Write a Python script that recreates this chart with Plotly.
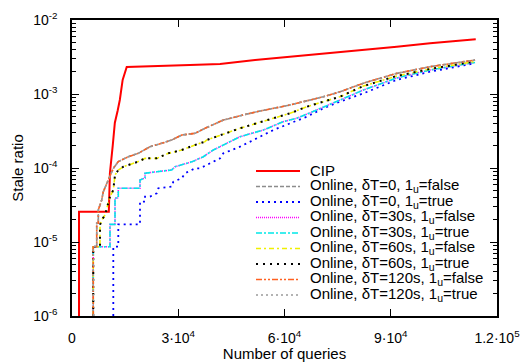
import plotly.graph_objects as go

# ---- data ----
cip_x = [1980, 1980, 10400, 10700, 11500, 12100, 12900, 13500, 14300, 15450, 33300, 41800, 51700, 72900, 82300, 91700, 101100, 114000]
cip_y = [1e-6, 2.57e-5, 2.57e-5, 8.5e-5, 2.0e-4, 4.1e-4, 6.0e-4, 8.3e-4, 1.55e-3, 2.32e-3, 2.47e-3, 2.54e-3, 2.88e-3, 3.55e-3, 3.93e-3, 4.36e-3, 4.84e-3, 5.48e-3]

# upper group (δT=0 false, δT=120s false/true)
a_x = [6000, 6000, 6980, 6980, 7430, 7430, 8390, 8840, 10250, 11660, 13070, 15900, 18720, 22030, 25330, 28150, 30980, 34740, 37560, 42730, 52160, 61560, 70970, 75680, 82260, 91690, 101100, 113800]
a_y = [1e-6, 8.64e-6, 8.64e-6, 1.79e-5, 1.79e-5, 2.71e-5, 3.70e-5, 4.78e-5, 6.89e-5, 9.91e-5, 1.22e-4, 1.42e-4, 1.58e-4, 1.94e-4, 2.16e-4, 2.39e-4, 2.79e-4, 2.94e-4, 3.44e-4, 4.45e-4, 5.77e-4, 7.10e-4, 9.20e-4, 1.07e-3, 1.40e-3, 1.90e-3, 2.34e-3, 2.88e-3]

# δT=60s group
b_x = [6000, 6000, 7900, 7900, 8390, 9320, 10730, 11660, 12140, 13070, 14490, 18720, 20620, 23920, 27200, 30980, 34740, 37560, 38040, 47440, 56850, 61560, 66280, 75680, 82260, 91690, 101100, 113800]
b_y = [1e-6, 8.64e-6, 8.64e-6, 1.70e-5, 1.98e-5, 2.32e-5, 4.10e-5, 5.04e-5, 8.04e-5, 9.40e-5, 1.04e-4, 1.22e-4, 1.35e-4, 1.35e-4, 1.58e-4, 1.75e-4, 2.05e-4, 2.27e-4, 2.39e-4, 3.44e-4, 4.70e-4, 5.48e-4, 6.73e-4, 9.20e-4, 1.28e-3, 1.75e-3, 2.18e-3, 2.75e-3]

# δT=30s group
c_x = [6000, 6000, 10730, 10730, 12140, 12140, 13070, 13070, 19200, 19200, 20620, 20620, 23920, 28150, 29090, 33800, 37080, 39900, 47440, 54020, 59670, 63460, 69100, 75680, 82260, 91690, 101100, 113800]
c_y = [1e-6, 8.64e-6, 8.64e-6, 1.73e-5, 1.73e-5, 3.93e-5, 3.93e-5, 5.32e-5, 5.32e-5, 6.89e-5, 7.33e-5, 8.48e-5, 8.91e-5, 9.40e-5, 1.04e-4, 1.21e-4, 1.42e-4, 1.75e-4, 2.65e-4, 3.26e-4, 4.23e-4, 4.70e-4, 6.08e-4, 8.30e-4, 1.13e-3, 1.65e-3, 2.11e-3, 2.67e-3]

# δT=0 true
d_x = [11660, 11660, 13070, 13070, 19200, 19200, 20620, 20620, 22030, 23920, 24370, 28150, 28610, 30980, 31910, 33800, 34740, 36150, 38970, 41800, 42730, 47440, 56850, 61560, 66280, 70970, 75680, 82260, 91690, 101100, 113800]
d_y = [1e-6, 8.64e-6, 8.64e-6, 1.73e-5, 1.73e-5, 3.51e-5, 3.51e-5, 4.10e-5, 4.10e-5, 4.55e-5, 5.32e-5, 5.59e-5, 6.53e-5, 7.26e-5, 8.48e-5, 9.40e-5, 9.91e-5, 9.91e-5, 1.16e-4, 1.35e-4, 1.58e-4, 1.94e-4, 3.26e-4, 4.02e-4, 4.93e-4, 6.41e-4, 7.87e-4, 1.02e-3, 1.55e-3, 2.00e-3, 2.60e-3]

series_names = [
    "CIP",
    "Online, δT=0, 1<sub>u</sub>=false",
    "Online, δT=0, 1<sub>u</sub>=true",
    "Online, δT=30s, 1<sub>u</sub>=false",
    "Online, δT=30s, 1<sub>u</sub>=true",
    "Online, δT=60s, 1<sub>u</sub>=false",
    "Online, δT=60s, 1<sub>u</sub>=true",
    "Online, δT=120s, 1<sub>u</sub>=false",
    "Online, δT=120s, 1<sub>u</sub>=true",
]
series_data = [(cip_x, cip_y), (a_x, a_y), (d_x, d_y), (c_x, c_y), (c_x, c_y),
               (b_x, b_y), (b_x, b_y), (a_x, a_y), (a_x, a_y)]
series_colors = ["#ff0000", "#8c8c8c", "#0000ff", "#ff00ff", "#00e8e8",
                 "#f0f000", "#000000", "#ff6020", "#9a9a9a"]
series_dash = ["solid", "4px,2px", "2px,4px", "1px,1px", "6px,2px,2px,2px",
               "5px,3px,2px,3px", "2px,5px", "6px,2px,2px,2px,2px,2px", "2px,3px"]
series_width = [2, 1.6, 1.8, 1.5, 1.6, 1.6, 2, 1.6, 1.5]

x_tickvals = [0, 30000, 60000, 90000, 120000]
x_ticktext = ["0", "3·10<sup>4</sup>", "6·10<sup>4</sup>", "9·10<sup>4</sup>", "1.2·10<sup>5</sup>"]
y_tickvals = [1e-6, 1e-5, 1e-4, 1e-3, 1e-2]
y_ticktext = ["10<sup>-6</sup>", "10<sup>-5</sup>", "10<sup>-4</sup>", "10<sup>-3</sup>", "10<sup>-2</sup>"]
y_minor = [m * 10.0 ** e for e in range(-6, -2) for m in range(2, 10)]

fig = go.Figure()
for name, (xs, ys), col, dash, w in zip(series_names, series_data, series_colors, series_dash, series_width):
    fig.add_trace(go.Scatter(x=xs, y=ys, mode="lines", name=name, showlegend=False,
                             line=dict(color=col, dash=dash, width=w)))

# ---- key (legend) drawn in paper coordinates, compact like the original ----
PLOT_L, PLOT_R, PLOT_T, PLOT_B = 72, 497, 20, 316
pw, ph = PLOT_R - PLOT_L, PLOT_B - PLOT_T
def px(x):
    return (x - PLOT_L) / pw
def py(y):
    return (PLOT_B - y) / ph

key_top, key_step = 171, 15.5
for i, (name, col, dash, w) in enumerate(zip(series_names, series_colors, series_dash, series_width)):
    yc = key_top + i * key_step
    fig.add_shape(type="line", xref="paper", yref="paper",
                  x0=px(256), x1=px(300), y0=py(yc), y1=py(yc),
                  line=dict(color=col, dash=dash, width=w))
    fig.add_annotation(xref="paper", yref="paper", x=px(308), y=py(yc - 1),
                       xanchor="left", yanchor="middle", showarrow=False,
                       text=name, font=dict(size=15), align="left")

font = "Liberation Sans, Arial, sans-serif"
fig.update_layout(
    width=525, height=362,
    margin=dict(l=PLOT_L, r=525 - PLOT_R, t=PLOT_T, b=362 - PLOT_B),
    paper_bgcolor="white", plot_bgcolor="white",
    font=dict(family=font, size=14, color="black"),
    showlegend=False,
    xaxis=dict(range=[0, 120000], tickvals=x_tickvals, ticktext=x_ticktext,
               ticks="inside", ticklen=7, tickwidth=1, tickcolor="black",
               ticklabelstandoff=8, automargin=False, tickfont=dict(size=14),
               showline=True, linecolor="black", linewidth=1.5, mirror="ticks",
               showgrid=False, zeroline=False,
               title=dict(text="Number of queries", standoff=8, font=dict(size=15))),
    yaxis=dict(type="log", range=[-6, -2], tickvals=y_tickvals, ticktext=y_ticktext,
               ticks="inside", ticklen=7, tickwidth=1, tickcolor="black",
               ticklabelstandoff=10, automargin=False, tickfont=dict(size=14),
               showline=True, linecolor="black", linewidth=1.5, mirror="ticks",
               showgrid=False, zeroline=False,
               minor=dict(tickvals=y_minor, ticks="inside", ticklen=4, tickcolor="black", showgrid=False),
               title=dict(text="Stale ratio", standoff=6, font=dict(size=15))),
)

fig.write_html("out.html")
